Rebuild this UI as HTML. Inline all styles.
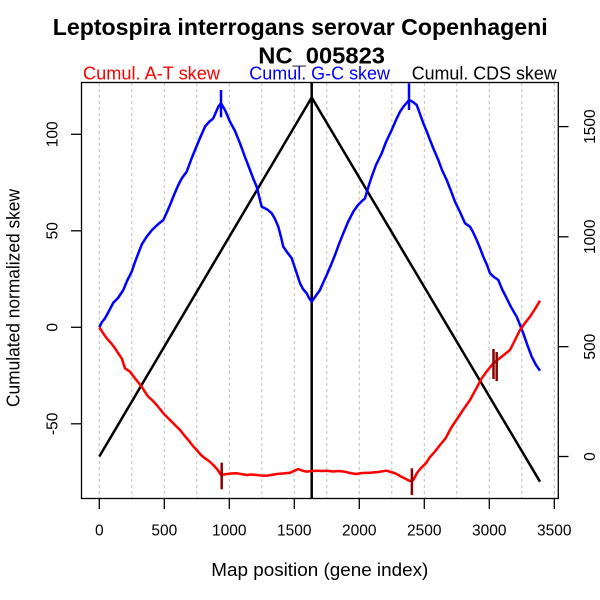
<!DOCTYPE html>
<html><head><meta charset="utf-8"><style>
html,body{margin:0;padding:0;background:#fff;}
svg{display:block;}
text{font-family:"Liberation Sans",Arial,sans-serif;}
</style></head><body>
<svg width="600" height="600" viewBox="0 0 600 600" xmlns="http://www.w3.org/2000/svg">
<rect width="600" height="600" fill="#fff"/>
<!-- title -->
<text x="52.7" y="35" font-size="23.5" font-weight="bold" textLength="495" lengthAdjust="spacingAndGlyphs">Leptospira interrogans serovar Copenhageni</text>
<text x="258.3" y="63.3" font-size="23.5" font-weight="bold" textLength="126.7" lengthAdjust="spacingAndGlyphs">NC_005823</text>
<!-- legend labels -->
<text x="83" y="79.5" font-size="18" fill="#ff0000" textLength="137" lengthAdjust="spacingAndGlyphs">Cumul. A-T skew</text>
<text x="249.3" y="79.5" font-size="18" fill="#0000ff" textLength="140.7" lengthAdjust="spacingAndGlyphs">Cumul. G-C skew</text>
<text x="411.7" y="79.5" font-size="18" fill="#000" textLength="145" lengthAdjust="spacingAndGlyphs">Cumul. CDS skew</text>

<!-- grid -->
<g stroke="#bebebe" stroke-width="1" stroke-dasharray="3,3">
<line x1="99.3" y1="83" x2="99.3" y2="498"/>
<line x1="131.8" y1="83" x2="131.8" y2="498"/>
<line x1="164.3" y1="83" x2="164.3" y2="498"/>
<line x1="196.8" y1="83" x2="196.8" y2="498"/>
<line x1="229.3" y1="83" x2="229.3" y2="498"/>
<line x1="261.8" y1="83" x2="261.8" y2="498"/>
<line x1="294.3" y1="83" x2="294.3" y2="498"/>
<line x1="326.8" y1="83" x2="326.8" y2="498"/>
<line x1="359.3" y1="83" x2="359.3" y2="498"/>
<line x1="391.8" y1="83" x2="391.8" y2="498"/>
<line x1="424.3" y1="83" x2="424.3" y2="498"/>
<line x1="456.8" y1="83" x2="456.8" y2="498"/>
<line x1="489.3" y1="83" x2="489.3" y2="498"/>
<line x1="521.8" y1="83" x2="521.8" y2="498"/>
<line x1="554.3" y1="83" x2="554.3" y2="498"/>
</g>

<!-- CDS skew -->
<polyline fill="none" stroke="#000" stroke-width="2.5" points="99.3,456.5 311.7,97.5 540,481.7"/>
<line x1="311.7" y1="82.5" x2="311.7" y2="498.5" stroke="#000" stroke-width="2.5"/>

<!-- G-C skew -->
<polyline fill="none" stroke="#0000ff" stroke-width="2.5" stroke-linejoin="round" points="99.3,327.3 102,322 105,318.3 109,311 113.3,302.7 118,298 123.3,290 127,281 131.7,271.7 135,262 138.3,253.3 142,244 146.7,236.7 152,230 158.3,224 163.3,220 167,212 170,205 174,195 178.3,185 182,178 186.7,171.7 191,160 195,150 200,138 205,126.7 209,122 213.3,118.3 216,112 218.3,106.7 221,103.3 225,110 230,121.7 235,131 240,143.3 245,157 250,170 253,178 256.7,186.7 259,196 261.7,206.7 265,208.3 268,210 271.7,213.3 275,219 278.3,226.7 281,237 283.3,246.7 287,252 291.7,258.3 296,271 300,283.3 303,289 306.7,293.3 309,298 311.7,301.7 315,297 320,290 323,283 326.7,275 331,265 335,255 339,244 343.3,233.3 348,222 353.3,211.7 358,205 362,201 365,198.3 368,188 371.7,176.7 376,165 381.7,153.3 386,142 391.7,130 396,120 400,111.7 404,106 409,100 413,102 416.7,105 420,114 423.3,123.3 427,132 430,140 434,150 438.3,160 442,170 446.7,180 451,191 455,201.7 460,212 465,223.3 470,226.7 473,232 476.7,240 480,248 483.3,256.7 487,265 490,273.3 494,277 498.3,280 502,289 506.7,298.3 511,307 516.7,316.7 520,325 523.3,333.3 527,344 531.7,356.7 536,365 540,370.7"/>
<g stroke="#0000ff" stroke-width="2.5">
<line x1="221" y1="90" x2="221" y2="117.3"/>
<line x1="409" y1="83.3" x2="409" y2="110"/>
</g>

<!-- A-T skew -->
<polyline fill="none" stroke="#ff0000" stroke-width="2.5" stroke-linejoin="round" points="99.3,327.3 103,333 106.7,338.3 111,343 115,348.3 118,353 121.7,358.3 125,368.3 130,371.7 135,378.3 141.7,386.7 145,392 148.3,396.7 152,400 156.7,405 160,409 163.3,413.3 168,418 171.7,421.7 176,426 180,430 184,435 188.3,440 193,446 196.7,450 201,455 205,458.3 209,461 213.3,465 217,469 221,475 226.7,474 231,473.5 236.7,473.3 241,474 246.7,475 251,474.5 256.7,475 261,475.5 266.7,475.7 271,475 276.7,474 283,473.5 290,472.7 294,471 298.3,469 302,470.5 306.7,471.7 311,471 316.7,470.7 322,471 327.2,470.7 333,471.5 339,471 345,471.7 350,473 355.9,474 362,473 370,472.7 378,472 386.4,470.7 391,472 395.3,473.3 400,476 405,478.5 409.7,481 413.3,480 417,473 421,468 425.9,463.3 430,457 434.8,451.7 440,445 445.6,438.3 451,428 456.4,420 463,410 470,400 476,389 481.7,378.3 487,371 493.3,363.3 500,358 505,354 510,350 515,340 520,330 525,323 530,316.7 535,309 540,300.7"/>
<g stroke="#8b0000" stroke-width="2.5">
<line x1="221.7" y1="462.7" x2="221.7" y2="489.3"/>
<line x1="411.9" y1="468.3" x2="411.9" y2="495"/>
<line x1="493.5" y1="349" x2="493.5" y2="379"/>
<line x1="496.7" y1="352" x2="496.7" y2="381"/>
</g>

<!-- box -->
<rect x="81.5" y="82.5" width="476.8" height="416" fill="none" stroke="#000" stroke-width="1.3"/>

<!-- ticks -->
<g stroke="#000" stroke-width="1.3">
<line x1="99.3" y1="498.5" x2="99.3" y2="509"/>
<line x1="164.3" y1="498.5" x2="164.3" y2="509"/>
<line x1="229.3" y1="498.5" x2="229.3" y2="509"/>
<line x1="294.3" y1="498.5" x2="294.3" y2="509"/>
<line x1="359.3" y1="498.5" x2="359.3" y2="509"/>
<line x1="424.3" y1="498.5" x2="424.3" y2="509"/>
<line x1="489.3" y1="498.5" x2="489.3" y2="509"/>
<line x1="554.3" y1="498.5" x2="554.3" y2="509"/>
<line x1="71" y1="134.3" x2="81.5" y2="134.3"/>
<line x1="71" y1="230.8" x2="81.5" y2="230.8"/>
<line x1="71" y1="327.3" x2="81.5" y2="327.3"/>
<line x1="71" y1="423.8" x2="81.5" y2="423.8"/>
<line x1="558.3" y1="126.6" x2="568.5" y2="126.6"/>
<line x1="558.3" y1="236.8" x2="568.5" y2="236.8"/>
<line x1="558.3" y1="346.7" x2="568.5" y2="346.7"/>
<line x1="558.3" y1="456.5" x2="568.5" y2="456.5"/>
</g>

<!-- x tick labels -->
<g font-size="15.5" text-anchor="middle" fill="#000">
<text x="99.3" y="535.5">0</text>
<text x="164.3" y="535.5">500</text>
<text x="229.3" y="535.5">1000</text>
<text x="294.3" y="535.5">1500</text>
<text x="359.3" y="535.5">2000</text>
<text x="424.3" y="535.5">2500</text>
<text x="489.3" y="535.5">3000</text>
<text x="554.3" y="535.5">3500</text>
</g>
<!-- left tick labels -->
<g font-size="15.5" text-anchor="middle" fill="#000">
<text transform="translate(57.5,134.3) rotate(-90)">100</text>
<text transform="translate(57.5,230.8) rotate(-90)">50</text>
<text transform="translate(57.5,327.3) rotate(-90)">0</text>
<text transform="translate(57.5,423.8) rotate(-90)">-50</text>
</g>
<!-- right tick labels -->
<g font-size="15.5" text-anchor="middle" fill="#000">
<text transform="translate(595,126.6) rotate(-90)">1500</text>
<text transform="translate(595,236.8) rotate(-90)">1000</text>
<text transform="translate(595,346.7) rotate(-90)">500</text>
<text transform="translate(595,456.5) rotate(-90)">0</text>
</g>

<!-- axis titles -->
<text x="319.8" y="576" font-size="18.5" text-anchor="middle" textLength="217" lengthAdjust="spacingAndGlyphs">Map position (gene index)</text>
<text transform="translate(19.5,298) rotate(-90)" font-size="18.5" text-anchor="middle" textLength="218" lengthAdjust="spacingAndGlyphs">Cumulated normalized skew</text>
</svg>
</body></html>
